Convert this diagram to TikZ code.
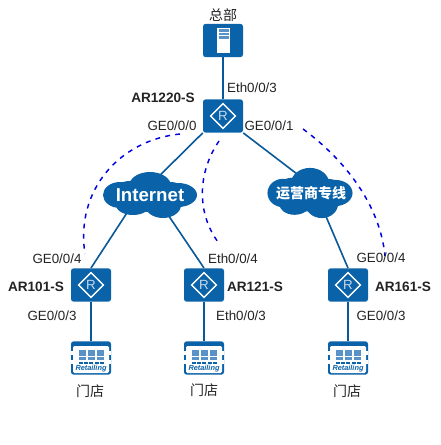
\documentclass[tikz,border=0pt]{standalone}
\usepackage{fontspec}
\setmainfont{Liberation Sans}
\newfontfamily\cjk{Noto Sans CJK SC}
\usetikzlibrary{calc,backgrounds,shapes.geometric}
\definecolor{hwblue}{RGB}{10,98,168}
\definecolor{hwlight}{RGB}{88,146,198}
\definecolor{pagetext}{RGB}{35,35,35}
\tikzset{
  devbox/.style={rectangle,rounded corners=2pt,fill=hwblue,minimum width=30pt,minimum height=25pt,inner sep=0pt},
  rdiamond/.style={diamond,draw=white,line width=1.1pt,minimum width=19pt,minimum height=19pt,inner sep=0pt,font=\fontsize{10}{10}\selectfont,text=hwlight!35!white},
  cloudtext/.style={rectangle,inner sep=0pt,text=white},
  link/.style={line width=1.2pt,hwblue!90!black},
  span/.style={dash pattern=on 3.6pt off 4pt,line width=1.1pt,blue!90!black},
  port/.style={font=\fontsize{10}{11}\selectfont,text=pagetext,inner sep=0pt},
  devname/.style={font=\fontsize{10.2}{11}\selectfont\bfseries,text=pagetext,inner sep=0pt},
  place/.style={font=\fontsize{10.5}{11}\selectfont\cjk,text=pagetext,inner sep=0pt},
}
\newcommand{\RouterIcon}[3]{%
  \node[devbox] (#1) at (#2,#3){};
  \node[rdiamond] (#1r) at (#2,#3){R};
}
\newcommand{\StoreIcon}[3]{%
  \node[devbox] (#1) at (#2,#3){};
  \begin{scope}[shift={(#2,#3)}]
    \fill[white,rounded corners=1pt] (-18,-12) rectangle (18,15);
    \fill[white] (-20,-7) rectangle (-17,-3); \fill[white] (20,-7) rectangle (17,-3);
    \fill[white] (-20,2) rectangle (-17,6);   \fill[white] (20,2) rectangle (17,6);
    \foreach \bx in {-12.3,-3.3,5.7}{
      \foreach \by in {-8,-4.6,-1.2}{
        \fill[hwlight] (\bx,\by) rectangle ++(7.6,2.8);
      }
    }
    \foreach \dx in {-12.3,-7,-1.7,3.6,8.9}{\fill[hwblue] (\dx,3.8) rectangle ++(3.9,2);}
  \end{scope}
  \node[font=\fontsize{5.5}{6}\selectfont\bfseries\itshape,text=hwblue,inner sep=0pt] (#1t) at (#2,#3+10.5){Retailing};
}
% lobes of a cloud, as offsets from its centre
\newcommand{\CloudBlob}[4]{%
  \begin{scope}[shift={(#1,#2)},xscale=#3,yscale=#4]
    \foreach \lx/\ly/\rx/\ry in {-30/0/17/13,0/-9/21/14,28/0/19/12,-17/10/17/10,13/10/18/13,-20/-6/14/8,20/-5/14/8,0/3/32/14}{
      \fill[hwblue] (\lx,\ly) ellipse ({\rx} and {\ry});
    }
  \end{scope}
}
\begin{document}
\begin{tikzpicture}[x=0.75pt,y=-0.75pt]
  \useasboundingbox (0,0) rectangle (440,445);
  % devices
  \node[devbox] (hq) at (223,40.5){};
  \fill[white] (217,28) rectangle (230,53);
  \foreach \ty in {29.5,33,36.5}{\fill[hwlight] (218.5,\ty) rectangle (228.5,\ty+2.5);}
  \RouterIcon{core}{223}{116}
  \RouterIcon{arone}{91}{285}
  \RouterIcon{artwo}{204}{285}
  \RouterIcon{arsix}{348}{285}
  \StoreIcon{shopa}{91}{358}
  \StoreIcon{shopb}{204}{358}
  \StoreIcon{shopc}{348}{358}
  \CloudBlob{150}{195}{1}{1}
  \CloudBlob{310}{193}{0.905}{1.09}
  \node[cloudtext,minimum width=70pt,minimum height=34pt,font=\fontsize{14}{15}\selectfont\bfseries] (inet) at (150,195){Internet};
  \node[cloudtext,minimum width=64pt,minimum height=37pt] (isp) at (311,193){\fontsize{10.5}{11}\selectfont\cjk\bfseries 运营商专线};
  % links go under the icons
  \begin{pgfonlayer}{background}
    \draw[link] (hq)--(core);
    \draw[link] (core.south west)--($(inet)+(-10,0)$);
    \draw[link] (core.south east)--($(isp)+(7,-3)$);
    \draw[link] ($(inet)+(-14,4)$)--(arone.north);
    \draw[link] ($(inet)+(8,5)$)--(artwo.north);
    \draw[link] ($(isp)+(5,0)$)--(arsix.north);
    \draw[link] (arone)--(shopa);
    \draw[link] (artwo)--(shopb);
    \draw[link] (arsix)--(shopc);
  \end{pgfonlayer}
  % spans
  \coordinate (sa1) at (180,134); \coordinate (sa2) at (85,254);
  \coordinate (sb1) at (219,141); \coordinate (sb2) at (218,242);
  \coordinate (sc1) at (303,129); \coordinate (sc2) at (385,256);
  \draw[span] (sa1) .. controls (120,140) and (75,190) .. (sa2);
  \draw[span] (sb1) .. controls (196,175) and (198,215) .. (sb2);
  \draw[span] (sc1) .. controls (345,160) and (380,205) .. (sc2);
  % labels
  \node[place] (lhq) at (223,15){总部};
  \node[port] (p1) at (252,88){Eth0/0/3};
  \node[devname] (ncore) at (163,98){AR1220-S};
  \node[port] (p2) at (172,126){GE0/0/0};
  \node[port] (p3) at (269,126){GE0/0/1};
  \node[port] (p4) at (57,259){GE0/0/4};
  \node[devname] (nar1) at (36,287){AR101-S};
  \node[port] (p5) at (52,316){GE0/0/3};
  \node[port] (p6) at (233,259){Eth0/0/4};
  \node[devname] (nar2) at (255,287){AR121-S};
  \node[port] (p7) at (241,316){Eth0/0/3};
  \node[port] (p8) at (381,258){GE0/0/4};
  \node[devname] (nar3) at (403,287){AR161-S};
  \node[port] (p9) at (381,316){GE0/0/3};
  \node[place] (la) at (90,391){门店};
  \node[place] (lb) at (204,390){门店};
  \node[place] (lc) at (347,391){门店};
\end{tikzpicture}
\end{document}
